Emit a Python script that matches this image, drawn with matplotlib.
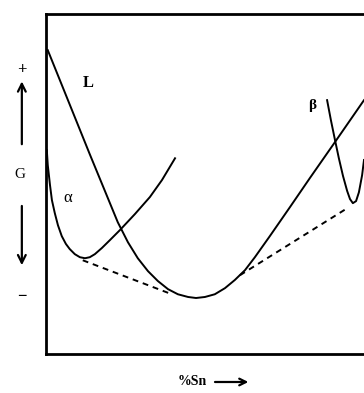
import matplotlib
matplotlib.use("Agg")
import matplotlib.pyplot as plt

# Free energy curves (x: %Sn, y: G in arbitrary units)
liq_x = [0.6, 4.4, 9.1, 13.8, 18.6, 22.6, 25.8, 28.9, 32.1, 35.2, 38.4, 41.5, 44.7, 47.2,
         50.0, 53.1, 56.3, 59.4, 62.6, 65.7, 70.4, 76.7, 83.0, 90.9, 100.0]
liq_g = [89.4, 80.6, 69.7, 58.8, 47.9, 38.8, 32.9, 28.2, 24.4, 21.5, 19.1, 17.6, 16.8, 16.5,
         16.8, 17.6, 19.4, 21.8, 24.7, 28.5, 34.7, 43.2, 51.8, 62.4, 74.7]

alpha_x = [0.3, 0.6, 1.3, 1.9, 2.8, 3.8, 5.0, 6.3, 7.5, 9.1, 10.7, 12.3, 13.8, 15.4,
           17.6, 20.1, 23.3, 28.0, 32.7, 36.5, 40.6]
alpha_g = [60.0, 55.6, 49.7, 45.3, 41.5, 37.9, 34.7, 32.4, 30.9, 29.4, 28.5, 28.2, 28.5, 29.4,
           31.2, 33.5, 36.5, 41.2, 46.2, 51.2, 57.6]

beta_x = [88.4, 89.6, 90.9, 92.1, 93.4, 94.7, 95.6, 96.5, 97.5, 98.4, 99.4, 100.0]
beta_g = [74.7, 68.8, 62.9, 57.6, 52.4, 48.0, 45.6, 44.4, 45.0, 47.6, 52.6, 57.1]

# common tangents
tan1_x = [11.6, 39.6]
tan1_g = [27.6, 17.6]
tan2_x = [61.0, 94.7]
tan2_g = [23.2, 42.9]

plt.rcParams['font.family'] = ['Liberation Serif', 'DejaVu Serif']

fig = plt.figure(figsize=(3.64, 3.93), dpi=100)
ax = fig.add_axes([0.126, 0.099, 0.874, 0.865])

for xs, gs in [(liq_x, liq_g), (alpha_x, alpha_g), (beta_x, beta_g)]:
    ax.plot(xs, gs, color='black', lw=1.4, solid_joinstyle='round')
ax.plot(tan1_x, tan1_g, color='black', lw=1.4, ls=(0, (3, 2.5)))
ax.plot(tan2_x, tan2_g, color='black', lw=1.4, ls=(0, (3, 2.5)))

ax.text(13.2, 79.7, 'L', fontsize=12, fontweight='bold', ha='center', va='center')
ax.text(6.9, 45.9, 'α', fontsize=12, ha='center', va='center')
ax.text(83.6, 73.2, 'β', fontsize=11, fontweight='bold', ha='center', va='center')

ax.set_xlim(0, 100)
ax.set_ylim(0, 100)
ax.set_xticks([])
ax.set_yticks([])
for s in ['left', 'top', 'bottom']:
    ax.spines[s].set_linewidth(2)
ax.spines['right'].set_visible(False)

# G axis annotation on the left
fig.text(0.060, 0.822, '+', fontsize=12, fontweight='bold', ha='center', va='center')
fig.text(0.055, 0.555, 'G', fontsize=11, ha='center', va='center')
fig.text(0.060, 0.244, '−', fontsize=12, fontweight='bold', ha='center', va='center')
ax.annotate('', xy=(0.060, 0.800), xytext=(0.060, 0.626), xycoords='figure fraction',
            arrowprops=dict(arrowstyle='->', lw=1.6, color='black', mutation_scale=14))
ax.annotate('', xy=(0.060, 0.318), xytext=(0.060, 0.483), xycoords='figure fraction',
            arrowprops=dict(arrowstyle='->', lw=1.6, color='black', mutation_scale=14))

# %Sn label with arrow
fig.text(0.527, 0.028, '%Sn', fontsize=10, fontweight='bold', ha='center', va='center')
ax.annotate('', xy=(0.690, 0.028), xytext=(0.583, 0.028), xycoords='figure fraction',
            arrowprops=dict(arrowstyle='->', lw=1.6, color='black', mutation_scale=12))

fig.savefig('out.png', dpi=100)
